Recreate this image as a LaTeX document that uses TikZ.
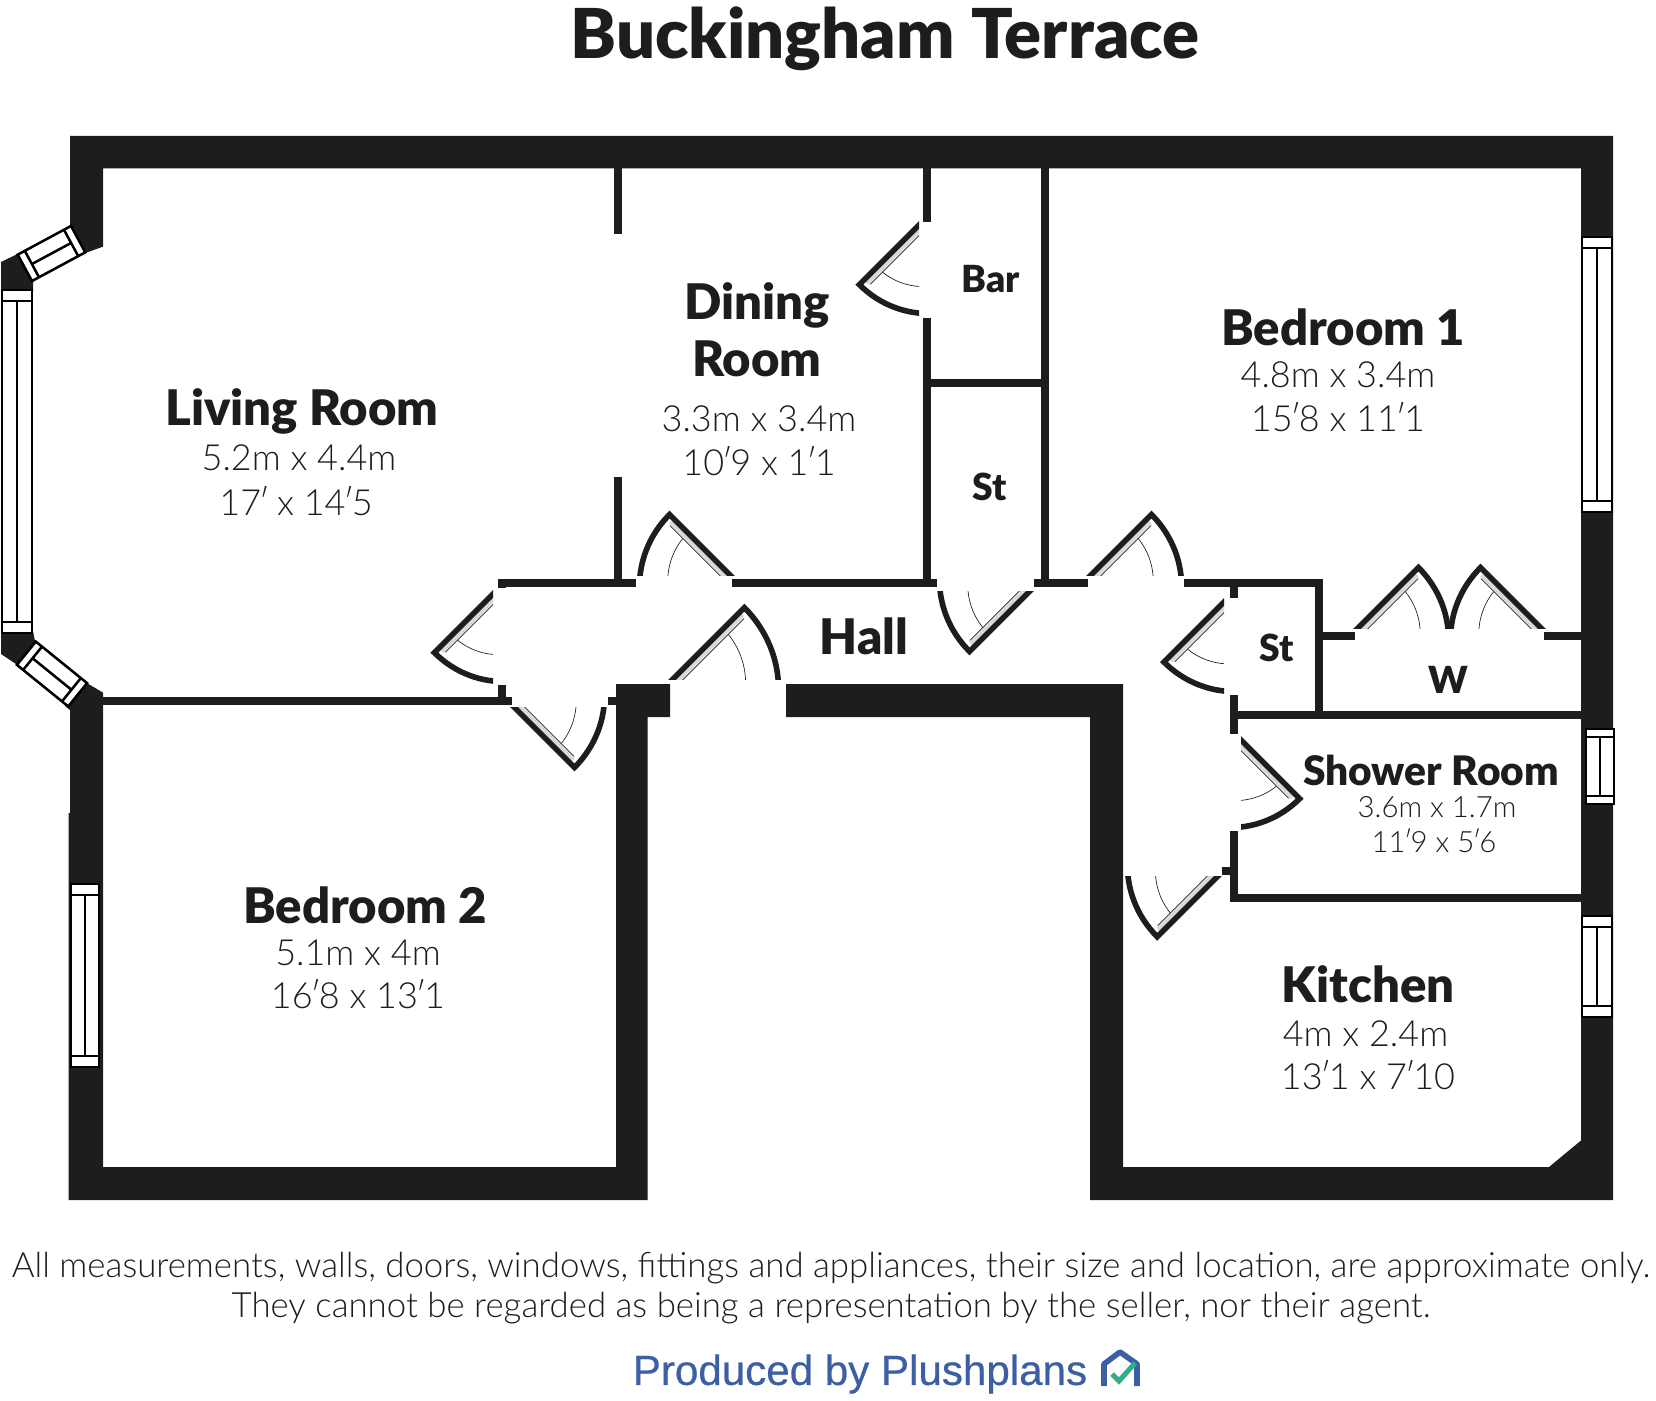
\documentclass[tikz,border=0pt]{standalone}
\usepackage{fontspec}
\usepackage{tikz}
\setmainfont{Lato}
\newfontfamily\heavyfont{Lato Black}
\newfontfamily\thinfont{Lato Light}
\newfontfamily\footfont[FakeBold=0.5]{Liberation Sans}
\definecolor{wallblack}{HTML}{1D1D1B}
\definecolor{leafgray}{HTML}{D9D9D9}
\definecolor{planblue}{HTML}{3C5FA3}
\definecolor{plangreen}{HTML}{2FAE8C}
\newcommand{\ftmark}{\kern-.07em′\kern-.07em}
\tikzset{
	wallfill/.style={fill=wallblack,draw=none},
	partition/.style={draw=wallblack,line width=5.6pt},
	windowline/.style={draw=black,line width=1.9pt,fill=white},
	leafline/.style={draw=wallblack,line width=4.2pt,line join=miter},
	leafband/.style={draw=leafgray,line width=3pt},
	swingline/.style={draw=wallblack,line width=0.5pt},
	roomname/.style={text=wallblack,font=\heavyfont\fontsize{36.8}{36.8}\selectfont,inner sep=0pt},
	smallname/.style={text=wallblack,font=\heavyfont\fontsize{28}{28}\selectfont,inner sep=0pt},
	showername/.style={text=wallblack,font=\heavyfont\fontsize{30.5}{30.5}\selectfont,inner sep=0pt},
	roomsize/.style={text=wallblack,font=\thinfont\fontsize{27}{27}\selectfont,inner sep=0pt},
	smallsize/.style={text=wallblack,font=\thinfont\fontsize{22}{22}\selectfont,inner sep=0pt},
	footnote/.style={text=wallblack,font=\thinfont\fontsize{26.1}{26.1}\selectfont,inner sep=0pt},
}
% hinge x, hinge y, leaf angle, side, radius, cut
\newcommand{\doorswing}[6]{%
	\begin{scope}[shift={(#1,#2)},rotate=-#3,yscale=#4]
		\clip[rotate=-45] (-60,-#6) rectangle (160,-160);
		\draw[leafband] (0,4.5) -- (#5-6,4.5);
		\draw[swingline] (0,7.5) -- (#5-8,7.5);
		\draw[swingline] (#5*0.72,7.5) arc[start angle=6,end angle=50,radius=#5*0.72];
		\draw[leafline] (0,0) -- (#5,0) arc[start angle=0,end angle=50,x radius=#5,y radius=#5+5];
	\end{scope}}
% centre x, centre y, angle, length, width, end cap
\newcommand{\planwindow}[6]{%
	\begin{scope}[shift={(#1,#2)},rotate=-#3]
		\draw[windowline] (-#4/2,-#5/2) rectangle (#4/2,#5/2);
		\draw[windowline] (-#4/2+#6,-#5/2) -- (-#4/2+#6,#5/2);
		\draw[windowline] (#4/2-#6,-#5/2) -- (#4/2-#6,#5/2);
		\draw[windowline] (-#4/2+#6,0) -- (#4/2-#6,0);
	\end{scope}}

\begin{document}
\begin{tikzpicture}[x=0.75pt,y=-0.75pt]
	\useasboundingbox (0,0) rectangle (1656,1401);
	% Outer walls
	\fill[wallfill] (70,136) -- (1613,136) -- (1613,1200) -- (1090,1200) -- (1090,717) -- (786,717) -- (786,684) -- (1123,684) -- (1123,1167) -- (1549,1167) -- (1581,1140.5) -- (1581,168.5) -- (103,168.5) -- (103,246.7) -- (86.7,252.5) -- (70,225.7) -- cycle;
	\fill[wallfill] (103,692.6) -- (86.7,683) -- (65,706) -- (70,710) -- (70,813) -- (68.6,813) -- (68.6,1200) -- (647.5,1200) -- (647.5,717) -- (670,717) -- (670,684) -- (616,684) -- (616,1167) -- (103,1167) -- cycle;
	% Bay piers
	\fill[wallfill] (1,262) -- (16.7,254.4) -- (33,281) -- (33,292) -- (1,292) -- cycle;
	\fill[wallfill] (1,631) -- (33,631) -- (35,641) -- (19,666) -- (1,654) -- cycle;
	% Inner walls
	\foreach \xa/\ya/\xb/\yb in {927/168/927/221.7, 927/318/927/586, 1045/168/1045/586, 927/383/1045/383,
		498/583/635.7/583, 731.7/583/937/583, 1034/583/1088.3/583, 1184/583/1323/583, 1319/583/1319/715,
		618/168/618/234.5, 618/477/618/583, 103/701/511.7/701, 608/701/616/701, 502/579/502/588, 502/685/502/705,
		1234/587/1234/598, 1234/695/1234/734, 1234/831/1234/902, 1230/715/1581/715, 1230/898/1581/898,
		1222/871/1230/871, 1319/636/1354.5/636, 1544/636/1581/636}
		\draw[partition] (\xa,\ya) -- (\xb,\yb);
	% Doors
	\foreach \hx/\hy/\leaf/\side/\rad/\cut in {498/589/135/-1/90/5, 736/581/225/-1/94/6, 668/684/-45/1/108/5,
		508/701/45/-1/94/6, 1036/585/135/1/94/6, 1085/581/-45/1/94/6, 1229/597/135/-1/92/5,
		1352/634/-45/1/94/6, 1547/634/225/-1/94/6, 1236/735/45/1/90/5, 1223/871/135/1/93/5, 923/221/135/-1/90/4}
		\doorswing{\hx}{\hy}{\leaf}{\side}{\rad}{\cut};
	% Windows
	\foreach \cx/\cy/\ang/\len/\wid/\capw in {17/461.5/90/343/30/11, 51.5/253.5/-28.3/60.5/30/8, 52/674/39/66/30/8,
		85/975.5/90/183/28/11, 1597/374.5/90/275/30/11, 1600/766.5/90/75/28/8, 1597/966.5/90/101/30/11}
		\planwindow{\cx}{\cy}{\ang}{\len}{\wid}{\capw};
	% Labels
	\node[text=wallblack,font=\heavyfont\fontsize{51.6}{51.6}\selectfont,inner sep=0pt] (title) at (885,39) {Buckingham Terrace};
	\node[roomname] (living) at (302,411) {Living Room};
	\node[roomsize] (livingm) at (299,458) {5.2m x 4.4m};
	\node[roomsize] (livingf) at (296,501) {17\ftmark{} x 14\ftmark{}5};
	\node[roomname] (dining) at (757,305) {Dining};
	\node[roomname] (diningb) at (757,359) {Room};
	\node[roomsize] (diningm) at (759,419) {3.3m x 3.4m};
	\node[roomsize] (diningf) at (759,461.5) {10\ftmark{}9 x 1\ftmark{}1};
	\node[smallname] (bar) at (990.6,279) {Bar};
	\node[smallname] (store) at (989.6,487) {St};
	\node[roomname] (bedone) at (1343,327) {Bedroom 1};
	\node[roomsize] (bedonem) at (1338,375) {4.8m x 3.4m};
	\node[roomsize] (bedonef) at (1338,417) {15\ftmark{}8 x 11\ftmark{}1};
	\node[roomname] (hall) at (864,636) {Hall};
	\node[smallname] (storeb) at (1277,648) {St};
	\node[smallname] (ward) at (1448,680) {W};
	\node[showername] (shower) at (1431,770) {Shower Room};
	\node[smallsize] (showerm) at (1437,807) {3.6m x 1.7m};
	\node[smallsize] (showerf) at (1434,841) {11\ftmark{}9 x 5\ftmark{}6};
	\node[roomname] (bedtwo) at (365,905) {Bedroom 2};
	\node[roomsize] (bedtwom) at (358,952.6) {5.1m x 4m};
	\node[roomsize] (bedtwof) at (358,994) {16\ftmark{}8 x 13\ftmark{}1};
	\node[roomname] (kitchen) at (1368,984) {Kitchen};
	\node[roomsize] (kitchenm) at (1365.5,1034) {4m x 2.4m};
	\node[roomsize] (kitchenf) at (1368,1075) {13\ftmark{}1 x 7\ftmark{}10};
	% Footer
	\node[footnote] (notea) at (831,1268) {All measurements, walls, doors, windows, fittings and appliances, their size and location, are approximate only.};
	\node[footnote] (noteb) at (831,1308) {They cannot be regarded as being a representation by the seller, nor their agent.};
	\node[text=planblue,font=\footfont\fontsize{31.6}{31.6}\selectfont,inner sep=0pt] (credit) at (860,1374) {Produced by Plushplans};
	\draw[planblue,line width=4.2pt,line join=round] (1104,1386) -- (1104,1364) -- (1120,1352) -- (1137,1364) -- (1137,1386);
	\draw[plangreen,line width=3.8pt] (1112,1374) -- (1119,1381) -- (1135,1363);
\end{tikzpicture}
\end{document}
